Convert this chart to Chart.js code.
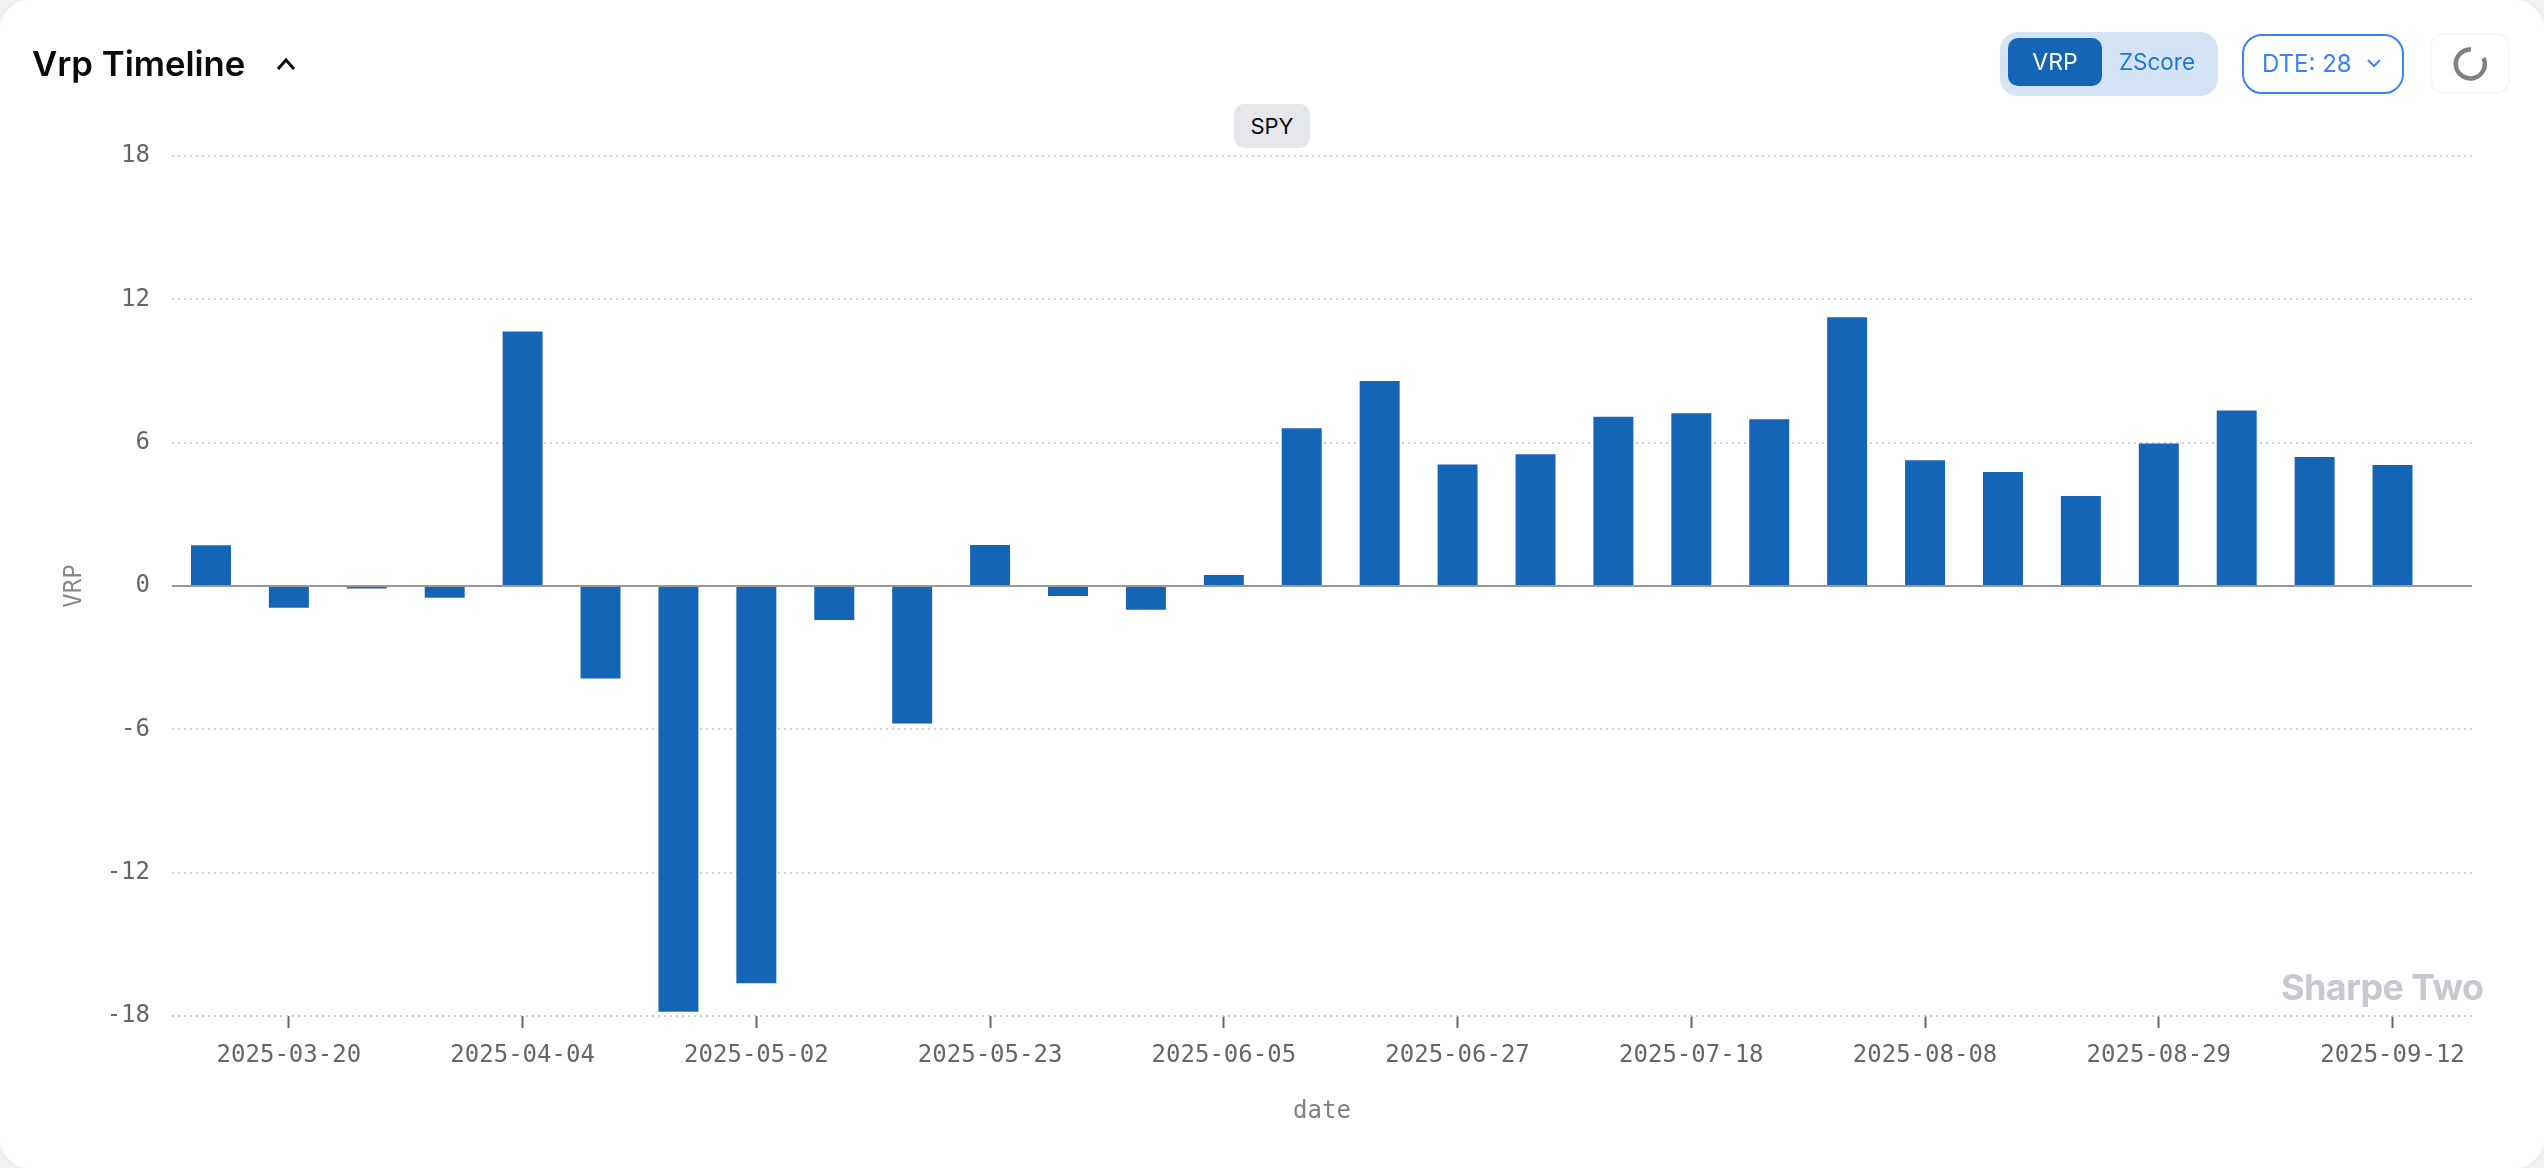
<!DOCTYPE html>
<html>
<head>
<meta charset="utf-8">
<title>Vrp Timeline</title>
<script src="https://cdn.jsdelivr.net/npm/chart.js@4/dist/chart.umd.min.js"></script>
<style>
    html, body { margin: 0; padding: 0; background: #f1f1f1; overflow: hidden; }
    #card { position: absolute; left: 0; top: 0; width: 2544px; height: 1168px; background: #ffffff; border-radius: 30px; overflow: hidden; font-family: Inter, sans-serif; }
    #vrpChart { position: absolute; left: 0; top: 0; }
    .abs { position: absolute; box-sizing: border-box; }
    #title { left: 32px; top: 40px; font-size: 34.7px; line-height: 46px; font-weight: 600; color: #0a0a0f; }
    #toggle { left: 2000px; top: 32px; width: 218px; height: 64px; background: #d4e4f6; border-radius: 18px; }
    #btnVrp { left: 2008px; top: 38px; width: 94px; height: 48px; background: #1565b6; border-radius: 10px; color: #fff; font-size: 23px; line-height: 48px; text-align: center; }
    #btnZ { left: 2102px; top: 38px; width: 110px; height: 48px; color: #1d76d2; font-size: 22.5px; line-height: 48px; text-align: center; }
    #dte { left: 2242px; top: 34px; width: 162px; height: 60px; border: 2px solid #3b82f6; border-radius: 20px; color: #3b82f6; font-size: 24px; line-height: 56px; padding-left: 18px; }
    #refresh { left: 2430px; top: 33px; width: 80px; height: 61px; border: 2px solid #f8f8f8; border-radius: 14px; background: #fff; }
    #spy { left: 1234px; top: 104px; width: 76px; height: 44px; background: #e5e7eb; border-radius: 10px; color: #0a0a0f; font-size: 22px; line-height: 44px; text-align: center; }
    #mark { left: 2281px; top: 964px; font-size: 36px; line-height: 46px; font-weight: 700; color: #c7c9d0; letter-spacing: -0.6px; }
</style>
</head>
<body>
<div id="card">
    <canvas id="vrpChart" width="2544" height="1168"></canvas>
    <div class="abs" id="title">Vrp Timeline</div>
    <svg class="abs" style="left:274px;top:54px" width="24" height="20" viewBox="0 0 24 20"><path d="M4 15 L12 6 L20 15" fill="none" stroke="#0a0a0f" stroke-width="3"/></svg>
    <div class="abs" id="toggle"></div>
    <div class="abs" id="btnVrp">VRP</div>
    <div class="abs" id="btnZ">ZScore</div>
    <div class="abs" id="dte">DTE: 28</div>
    <svg class="abs" style="left:2364px;top:56px" width="20" height="16" viewBox="0 0 20 16"><path d="M4 4 L10 10 L16 4" fill="none" stroke="#3b82f6" stroke-width="2"/></svg>
    <div class="abs" id="refresh"></div>
    <svg class="abs" style="left:2453px;top:44px" width="40" height="40" viewBox="0 0 40 40"><path d="M30.5 14 A14.5 14.5 0 1 1 18 5.5" fill="none" stroke="#808080" stroke-width="4.5"/></svg>
    <div class="abs" id="spy">SPY</div>
    <div class="abs" id="mark">Sharpe Two</div>
</div>

<script>
// values
var vrpValues = [
    1.71, -0.91, -0.10, -0.49, 10.65, -3.87, -17.82, -16.63, -1.42, -5.76,
    1.72, -0.42, -0.99, 0.46, 6.60, 8.58, 5.09, 5.51, 7.09, 7.23,
    6.98, 11.25, 5.26, 4.77, 3.77, 5.97, 7.35, 5.40, 5.06
];
var tickLabels = [
    '2025-03-20', '2025-04-04', '2025-05-02', '2025-05-23', '2025-06-05',
    '2025-06-27', '2025-07-18', '2025-08-08', '2025-08-29', '2025-09-12'
];
var tickBars = [1, 4, 7, 10, 13, 16, 19, 22, 25, 28];
var yTicks = [-18, -12, -6, 0, 6, 12, 18];

var monoFont = '"DejaVu Sans Mono", monospace';

// axis line at zero sits on top of the bars
var zeroLine = {
    id: 'zeroLine',
    afterDatasetsDraw: function(chart) {
        var ctx = chart.ctx;
        var y = chart.scales.y.getPixelForValue(0);
        ctx.save();
        ctx.strokeStyle = '#999999';
        ctx.lineWidth = 2;
        ctx.beginPath();
        ctx.moveTo(chart.chartArea.left, y);
        ctx.lineTo(chart.chartArea.right, y);
        ctx.stroke();
        ctx.restore();
    }
};

new Chart(document.getElementById('vrpChart').getContext('2d'), {
    type: 'bar',
    data: {
        datasets: [{
            label: 'VRP',
            data: vrpValues.map(function(v, i) { return { x: i, y: v }; }),
            backgroundColor: '#1565b6',
            barPercentage: 0.513,
            categoryPercentage: 1
        }]
    },
    plugins: [zeroLine],
    options: {
        responsive: false,
        animation: false,
        devicePixelRatio: 1,
        layout: { padding: { left: 60, right: 72, top: 156, bottom: 42 } },
        plugins: { legend: { display: false }, tooltip: { enabled: false } },
        scales: {
            x: {
                type: 'linear',
                offset: false,
                min: -0.5,
                max: 29.02,
                afterBuildTicks: function(scale) {
                    scale.ticks = tickBars.map(function(v) { return { value: v }; });
                },
                afterFit: function(scale) { scale.height = 110; },
                ticks: {
                    autoSkip: false,
                    maxRotation: 0,
                    padding: 13,
                    color: '#666666',
                    font: { family: monoFont, size: 24 },
                    callback: function(value) { return tickLabels[tickBars.indexOf(value)]; }
                },
                grid: {
                    offset: false,
                    drawOnChartArea: false,
                    tickLength: 12,
                    tickColor: '#666666',
                    tickWidth: 2
                },
                border: { display: false },
                title: {
                    display: true,
                    text: 'date',
                    color: '#808080',
                    font: { family: monoFont, size: 24 },
                    padding: { top: 16, bottom: 0 }
                }
            },
            y: {
                min: -18,
                max: 18,
                afterBuildTicks: function(scale) {
                    scale.ticks = yTicks.map(function(v) { return { value: v }; });
                },
                afterFit: function(scale) { scale.width = 112; },
                ticks: {
                    padding: 22,
                    color: '#666666',
                    font: { family: monoFont, size: 24 }
                },
                grid: {
                    drawTicks: false,
                    lineWidth: 2,
                    color: function(c) { return c.tick && c.tick.value === 0 ? 'rgba(0,0,0,0)' : '#d0d0d0'; }
                },
                border: { display: false, dash: [2, 4] },
                title: {
                    display: true,
                    text: 'VRP',
                    color: '#888888',
                    font: { family: monoFont, size: 24 },
                    padding: { top: 0, bottom: 0 }
                }
            }
        }
    }
});
</script>
</body>
</html>
